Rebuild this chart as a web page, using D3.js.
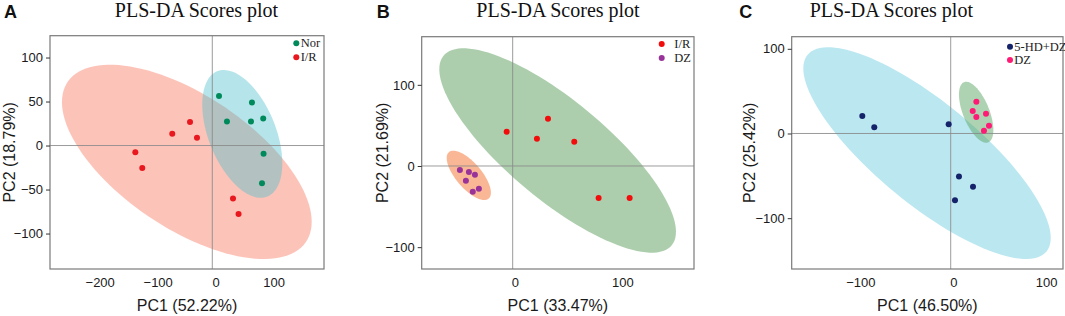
<!DOCTYPE html>
<html><head><meta charset="utf-8">
<script src="https://cdn.jsdelivr.net/npm/d3@7"></script>
<style>
html,body{margin:0;padding:0;background:#fff;}
svg{display:block;}
</style></head><body>
<svg id="chart" width="1065" height="316"></svg>
<script>
// ================= DATA =================
const panelLetters = ["A", "B", "C"];
const plotTitle = "PLS-DA Scores plot";
const xAxisTitles = ["PC1 (52.22%)", "PC1 (33.47%)", "PC1 (46.50%)"];
const yAxisTitles = ["PC2 (18.79%)", "PC2 (21.69%)", "PC2 (25.42%)"];

const xTicksA = [-200, -100, 0, 100];
const yTicksA = [-100, -50, 0, 50, 100];
const xTicksB = [0, 100];
const yTicksB = [-100, 0, 100];
const xTicksC = [-100, 0, 100];
const yTicksC = [-100, 0, 100];

const xLimA = [-279.8, 192.6], yLimA = [-140.3, 124.8];
const xLimB = [-84.8, 169],    yLimB = [-126.9, 159.3];
const xLimC = [-171.2, 120.9], yLimC = [-160, 114.3];

// Panel A
const groupsA = ["Nor", "I/R"];
const norPC1 = [11.6, 68.4, 25.3, 66.7, 87.8, 88.4, 85.7];
const norPC2 = [56.3, 48.9, 27.2, 27.2, 30.6, -9.4, -43.0];
const irAPC1 = [-38.4, -69.0, -26.4, -132.7, -120.7, 35.7, 45.3];
const irAPC2 = [26.7, 13.3, 8.8, -7.7, -25.6, -60.2, -77.8];
// ellipse: [center PC1, center PC2, half extent PC1, half extent PC2, correlation]
const ellNorA = [51.7, 13.2, 69.0, 72.6, -0.46];
const ellIRA  = [-43.9, -18.6, 215.3, 110.4, -0.616];

// Panel B
const groupsB = ["I/R", "DZ"];
const irBPC1 = [-5.6, 22.6, 32.9, 57.4, 80.1, 109.0];
const irBPC2 = [42.3, 33.6, 58.2, 29.8, -39.4, -39.4];
const dzBPC1 = [-49.2, -40.8, -35.2, -43.6, -31.5, -37.2];
const dzBPC2 = [-4.9, -7.4, -10.7, -18.1, -28.0, -31.7];
const ellIRB = [41.9, 19.1, 110.3, 125.9, -0.795];
const ellDZB = [-40.9, -11.5, 20.6, 30.4, -0.70];

// Panel C
const groupsC = ["5-HD+DZ", "DZ"];
const hdPC1 = [-95.2, -82.3, -2.2, 8.9, 24.0, 4.6];
const hdPC2 = [20.7, 7.3, 10.9, -50.8, -62.9, -78.8];
const dzCPC1 = [27.6, 23.7, 27.6, 38.0, 41.2, 35.8];
const dzCPC2 = [37.5, 26.6, 19.5, 23.3, 9.2, 3.3];
const ellHDC = [-25.5, -23.2, 133.2, 125.0, -0.80];
const ellDZC = [27.4, 25.1, 18.5, 36.0, -0.58];

// ================= LAYOUT / STYLE =================
const panels = [
  { letter: panelLetters[0], xTitle: xAxisTitles[0], yTitle: yAxisTitles[0],
    xLim: xLimA, yLim: yLimA, xTicks: xTicksA, yTicks: yTicksA,
    box: {l: 50, r: 324, t: 35.7, b: 269}, titleX: 196.5, letterX: 4, yTitleX: 14.5, xLabDx: 3.4,
    legend: {dotX: 296.3, textX: 300.7, y0: 43.3, dy: 14},
    ellipses: [{e: ellIRA, fill: "#FA8A74", op: 0.5}, {e: ellNorA, fill: "#4FBFCC", op: 0.42}],
    series: [
      {name: groupsA[0], x: norPC1, y: norPC2, color: "#008A5C"},
      {name: groupsA[1], x: irAPC1, y: irAPC2, color: "#E8181E"}
    ]},
  { letter: panelLetters[1], xTitle: xAxisTitles[1], yTitle: yAxisTitles[1],
    xLim: xLimB, yLim: yLimB, xTicks: xTicksB, yTicks: yTicksB,
    box: {l: 421.7, r: 694, t: 36.7, b: 269}, titleX: 558, letterX: 376.7, yTitleX: 388, xLabDx: 2.3,
    legend: {dotX: 661.7, textX: 674.3, y0: 44, dy: 14},
    ellipses: [{e: ellIRB, fill: "#5A9E5C", op: 0.5}, {e: ellDZB, fill: "#F7874E", op: 0.6}],
    series: [
      {name: groupsB[0], x: irBPC1, y: irBPC2, color: "#F20C0C"},
      {name: groupsB[1], x: dzBPC1, y: dzBPC2, color: "#993399"}
    ]},
  { letter: panelLetters[2], xTitle: xAxisTitles[2], yTitle: yAxisTitles[2],
    xLim: xLimC, yLim: yLimC, xTicks: xTicksC, yTicks: yTicksC,
    box: {l: 791.7, r: 1063, t: 36.7, b: 269}, titleX: 891.3, letterX: 739.3, yTitleX: 754.5, xLabDx: 2.6,
    legend: {dotX: 1010, textX: 1014.3, y0: 46.7, dy: 13.3},
    ellipses: [{e: ellHDC, fill: "#6CCDE0", op: 0.47}, {e: ellDZC, fill: "#5DA866", op: 0.5}],
    series: [
      {name: groupsC[0], x: hdPC1, y: hdPC2, color: "#15236B"},
      {name: groupsC[1], x: dzCPC1, y: dzCPC2, color: "#FF1A75"}
    ]}
];

const sans = "'Liberation Sans', Arial, Helvetica, sans-serif";
const serif = "'Liberation Serif', 'Times New Roman', Times, serif";

const svg = d3.select("#chart");

function ellipsePoints(e) {
  const [cx, cy, rx, ry, rho] = e;
  const s = Math.sqrt(1 - rho * rho);
  return d3.range(0, 361, 3).map(a => {
    const t = a * Math.PI / 180;
    return [cx + rx * Math.cos(t), cy + ry * (rho * Math.cos(t) + s * Math.sin(t))];
  });
}

panels.forEach((p, i) => {
  const x = d3.scaleLinear().domain(p.xLim).range([p.box.l, p.box.r]);
  const y = d3.scaleLinear().domain(p.yLim).range([p.box.b, p.box.t]);
  const g = svg.append("g");

  const clipId = "clip" + i;
  svg.append("clipPath").attr("id", clipId).append("rect")
    .attr("x", p.box.l).attr("y", p.box.t)
    .attr("width", p.box.r - p.box.l).attr("height", p.box.b - p.box.t);

  const inner = g.append("g").attr("clip-path", `url(#${clipId})`);

  // ellipses
  const line = d3.line().x(d => x(d[0])).y(d => y(d[1])).curve(d3.curveLinearClosed);
  p.ellipses.forEach(el => {
    inner.append("path").attr("d", line(ellipsePoints(el.e)))
      .attr("fill", el.fill).attr("fill-opacity", el.op).attr("stroke", "none");
  });

  // crosshair at 0
  inner.append("line").attr("x1", x(0)).attr("x2", x(0)).attr("y1", p.box.t).attr("y2", p.box.b)
    .attr("stroke", "#8a8a8a").attr("stroke-width", 1).attr("stroke-opacity", 0.85);
  inner.append("line").attr("y1", y(0)).attr("y2", y(0)).attr("x1", p.box.l).attr("x2", p.box.r)
    .attr("stroke", "#8a8a8a").attr("stroke-width", 1).attr("stroke-opacity", 0.85);

  // points
  p.series.forEach(s => {
    inner.append("g").selectAll("circle").data(d3.range(s.x.length)).join("circle")
      .attr("cx", k => x(s.x[k])).attr("cy", k => y(s.y[k])).attr("r", 3)
      .attr("fill", s.color);
  });

  // box
  g.append("rect").attr("x", p.box.l).attr("y", p.box.t)
    .attr("width", p.box.r - p.box.l).attr("height", p.box.b - p.box.t)
    .attr("fill", "none").attr("stroke", "#7a7a7a").attr("stroke-width", 1.2);

  // y axis
  const yAxis = d3.axisLeft(y).tickValues(p.yTicks).tickSize(4).tickPadding(3)
    .tickFormat(d3.format("d"));
  const yg = g.append("g").attr("transform", `translate(${p.box.l},0)`).call(yAxis);
  yg.select(".domain").remove();
  yg.selectAll(".tick line").attr("stroke", "#333");
  yg.selectAll(".tick text").attr("font-family", sans).attr("font-size", 13).attr("fill", "#1a1a1a");

  // x axis (no tick marks)
  const xAxis = d3.axisBottom(x).tickValues(p.xTicks).tickSize(0).tickPadding(6)
    .tickFormat(d3.format("d"));
  const xg = g.append("g").attr("transform", `translate(0,${p.box.b})`).call(xAxis);
  xg.select(".domain").remove();
  xg.selectAll(".tick text").attr("font-family", sans).attr("font-size", 13).attr("fill", "#1a1a1a")
    .attr("dx", p.xLabDx).attr("dy", "0.95em");

  // axis titles
  g.append("text").attr("x", (p.box.l + p.box.r) / 2).attr("y", 311)
    .attr("text-anchor", "middle").attr("font-family", sans).attr("font-size", 16)
    .attr("fill", "#1a1a1a").text(p.xTitle);
  g.append("text").attr("transform", `translate(${p.yTitleX},${(p.box.t + p.box.b) / 2}) rotate(-90)`)
    .attr("text-anchor", "middle").attr("font-family", sans).attr("font-size", 16)
    .attr("fill", "#1a1a1a").text(p.yTitle);

  // title and letter
  g.append("text").attr("x", p.titleX).attr("y", 16.5).attr("text-anchor", "middle")
    .attr("font-family", serif).attr("font-size", 20).attr("fill", "#111").text(plotTitle);
  g.append("text").attr("x", p.letterX).attr("y", 18).attr("font-family", sans)
    .attr("font-weight", "bold").attr("font-size", 18).attr("fill", "#111").text(p.letter);

  // legend
  p.series.forEach((s, k) => {
    const ly = p.legend.y0 + k * p.legend.dy;
    g.append("circle").attr("cx", p.legend.dotX).attr("cy", ly).attr("r", 3).attr("fill", s.color);
    g.append("text").attr("x", p.legend.textX).attr("y", ly).attr("dy", "0.33em")
      .attr("font-family", serif).attr("font-size", 12.5).attr("fill", "#222").text(s.name);
  });
});
</script>
</body></html>
